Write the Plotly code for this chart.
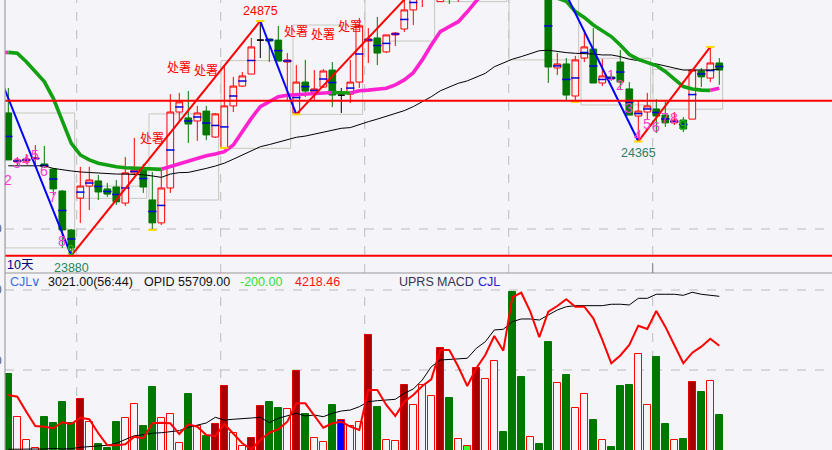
import plotly.graph_objects as go

BG = "#f4f4f9"

# ---------------- price candles (index 0..79) ----------------
OPEN = [24485, 24277, 24281, 24290, 24269, 24247, 24154, 23989, 24124, 24175,
        24197, 24163, 24171, 24103, 24231, 24243, 24116, 24019, 24167, 24489,
        24464, 24451, 24493, 24383, 24337, 24515, 24599, 24650, 24794, 24799,
        24794, 24701, 24485, 24616, 24574, 24595, 24667, 24561, 24565, 24616,
        24790, 24803, 24744, 24816, 24841, 24922, 24985, 25030, 24957, 25100,
        25010, 25120, 25220, 25300, 25260, 25380, 25420, 25330, 25200, 25240,
        25028, 24676, 24693, 24557, 24718, 24756, 24612, 24638, 24701, 24587,
        24472, 24489, 24502, 24476, 24443, 24455, 24459, 24663, 24633, 24697]
HIGH = [24591, 24298, 24311, 24349, 24345, 24252, 24158, 23993, 24257, 24257,
        24222, 24188, 24201, 24298, 24379, 24269, 24235, 24243, 24565, 24570,
        24578, 24515, 24515, 24485, 24684, 24638, 24659, 24803, 24875, 24799,
        24854, 24739, 24688, 24710, 24667, 24671, 24701, 24591, 24710, 24888,
        24845, 24892, 24816, 24828, 24972, 25006, 25049, 25130, 25090, 25120,
        25150, 25250, 25330, 25340, 25400, 25440, 25452, 25350, 25270, 25260,
        25049, 24739, 24718, 24727, 24824, 24845, 24714, 24654, 24752, 24616,
        24540, 24570, 24544, 24532, 24489, 24468, 24667, 24676, 24765, 24718]
LOW = [24286, 24264, 24269, 24256, 24252, 24137, 23913, 23880, 24019, 24074,
       24116, 24129, 24095, 24091, 24222, 24146, 23989, 24010, 24146, 24447,
       24358, 24367, 24370, 24379, 24337, 24489, 24595, 24650, 24718, 24701,
       24705, 24540, 24479, 24553, 24540, 24591, 24510, 24485, 24527, 24591,
       24697, 24688, 24739, 24769, 24828, 24858, 24934, 24990, 24957, 24947,
       24956, 25100, 25200, 25230, 25250, 25350, 25310, 25180, 25150, 25080,
       24612, 24646, 24540, 24532, 24701, 24612, 24599, 24621, 24582, 24476,
       24364, 24455, 24400, 24426, 24434, 24404, 24459, 24595, 24616, 24604]
CLOSE = [24286, 24286, 24290, 24294, 24256, 24163, 23989, 23913, 24175, 24201,
         24150, 24141, 24108, 24231, 24243, 24171, 24019, 24167, 24489, 24532,
         24438, 24485, 24392, 24481, 24515, 24599, 24642, 24765, 24794, 24790,
         24705, 24710, 24616, 24578, 24587, 24663, 24561, 24561, 24616, 24854,
         24799, 24739, 24816, 24824, 24922, 24985, 25028, 25110, 25060, 25010,
         25120, 25220, 25300, 25260, 25380, 25420, 25330, 25200, 25240, 25100,
         24680, 24693, 24561, 24710, 24765, 24612, 24642, 24629, 24616, 24476,
         24493, 24515, 24472, 24443, 24455, 24417, 24667, 24638, 24697, 24667]
DOJI = [28, 37]

# thick moving average (index -1..79)
MA_THICK = [24741, 24742, 24738, 24702, 24660, 24618, 24547, 24455, 24356, 24307,
            24286, 24272, 24264, 24257, 24253, 24252, 24250, 24247, 24246, 24257,
            24269, 24281, 24293, 24304, 24311, 24321, 24349, 24406, 24462, 24512,
            24533, 24554, 24560, 24563, 24566, 24568, 24570, 24572, 24571, 24570,
            24579, 24582, 24585, 24590, 24604, 24625, 24656, 24710, 24773, 24830,
            24851, 24872, 24914, 24960, 24998, 25028, 25049, 25057, 25049, 25028,
            25006, 24985, 24972, 24958, 24915, 24890, 24858, 24833, 24809, 24773,
            24733, 24712, 24697, 24686, 24661, 24631, 24597, 24587, 24582, 24581,
            24590]
# thin black long average (index 0..79)
MA_LONG = [24261, 24261, 24264, 24263, 24261, 24250, 24243, 24239, 24235, 24232,
           24229, 24227, 24226, 24226, 24226, 24223, 24218, 24212, 24226, 24232,
           24233, 24240, 24250, 24260, 24272, 24289, 24307, 24325, 24342, 24351,
           24361, 24370, 24382, 24387, 24395, 24403, 24413, 24420, 24423, 24437,
           24448, 24459, 24472, 24484, 24495, 24512, 24533, 24554, 24579, 24594,
           24611, 24621, 24636, 24653, 24681, 24696, 24713, 24724, 24738, 24749,
           24751, 24745, 24741, 24738, 24738, 24735, 24731, 24731, 24724, 24713,
           24707, 24698, 24693, 24684, 24674, 24667, 24667, 24667, 24667, 24671]

# zigzag pivots
ZZ_IDX = [-1, 7, 28, 32, 56, 70, 78]
ZZ_PRICE = [24642, 23880, 24875, 24479, 25452, 24365, 24765]

# reference horizontal levels
LEVELS = [24537, 23880]

# range boxes (first candle, last candle, low, high)
BOX_START = [0, 8, 16, 24, 32, 40, 48, 56, 64, 72]
BOX_END = [7, 15, 23, 31, 39, 47, 55, 63, 71, 79]
BOX_LO = [23913, 24123, 24116, 24335, 24479, 24790, 24957, 24710, 24519, 24501]
BOX_HI = [24485, 24175, 24481, 24707, 24858, 25110, 25420, 25420, 24717, 24670]

# count labels
CNT_IDX = [0, 1, 2, 3, 4, 5, 6, 7, 67, 68, 69, 70, 71, 72, 73, 74, 75]
CNT_PRICE = [24201, 24273, 24286, 24307, 24239, 24129, 23942, 23904,
             24646, 24604, 24506, 24392, 24438, 24426, 24464, 24464, 24434]
CNT_TEXT = ["2", "3", "4", "5", "6", "7", "8", "9",
            "1", "2", "3", "4", "5", "6", "7", "8", "9"]

# signal text
SIG_IDX = [19, 22, 16, 32, 35, 38]
SIG_PRICE = [24684, 24671, 24383, 24835, 24820, 24858]
SIG_TEXT = "处署"

# pivot markers (index, which)
MARK_IDX = [7, 16, 24, 28, 32, 63, 70, 78]
MARK_KIND = ["L", "L", "L", "H", "L", "L", "L", "H"]

# ---------------- volume panel ----------------
VOL = [3729, 2991, 2584, 2445, 2991, 2877, 3245, 2877, 3297, 2895,
       2520, 2456, 2900, 2964, 3206, 2831, 3510, 2964, 3033, 2532,
       3384, 2836, 2658, 2860, 3522, 2705, 2485, 2618, 3176, 3245,
       3147, 3119, 3781, 3038, 2618, 2549, 3194, 2929, 2831, 2895,
       4403, 3164, 2589, 2571, 3539, 3194, 3539, 3349, 4173, 3320,
       2601, 2485, 3828, 3643, 3954, 2727, 5146, 3677, 2641, 2520,
       4287, 3569, 3712, 3147, 3379, 2934, 2589, 2473, 3522, 3539,
       4070, 3188, 4023, 2865, 2584, 2606, 3586, 3418, 3603, 3021]
VOL_KIND = ("grrrggggdr" "gggrrggrrr" "grgddrrddg" "grdgrrgbrr"
            "dgrrdrrrdg" "rldrrgggrg" "grgrrgrggg" "rrggrgdgrg")
VOL_MA = [3366, 3337, 3078, 2831, 2819, 2791, 2895, 2865, 2974, 2947,
          2705, 2497, 2497, 2515, 2646, 2618, 2877, 2888, 2877, 2692,
          2860, 2819, 2675, 2658, 2865, 2692, 2532, 2428, 2589, 2715,
          2774, 2905, 3223, 3223, 3021, 2801, 2877, 2905, 2819, 2762,
          3453, 3453, 3194, 3004, 3251, 3366, 3522, 3638, 4144, 4144,
          3855, 3522, 3828, 4058, 4386, 4132, 5055, 5134, 4806, 4364,
          4806, 4904, 5020, 4892, 4892, 4692, 4317, 3914, 4049, 4230,
          4564, 4507, 4818, 4547, 4230, 3914, 4097, 4201, 4339, 4218]
OI_LINE = [2428, 2433, 2433, 2433, 2433, 2445, 2433, 2439, 2463, 2473,
           2485, 2497, 2532, 2601, 2663, 2680, 2705, 2715, 2732, 2750,
           2808, 2848, 2883, 2981, 2934, 2947, 2952, 2969, 2981, 2888,
           2964, 3009, 3050, 3004, 3021, 2991, 3050, 3090, 3107, 3164,
           3251, 3268, 3280, 3292, 3396, 3470, 3626, 3855, 3971, 3983,
           3989, 4001, 4173, 4287, 4490, 4502, 4633, 4680, 4680, 4662,
           4749, 4835, 4892, 4910, 4910, 4910, 4910, 4934, 4935, 4922,
           5037, 5037, 5107, 5107, 5107, 5089, 5141, 5107, 5089, 5072]

HEADER = [("CJL", "#3a6ee0"), ("∨", "#3a6ee0"), ("3021.00(56:44)", "#111111"),
          ("OPID 55709.00", "#111111"), ("-200.00", "#33dd33"), ("4218.46", "#ff1010"),
          ("UPRS", "#333355"), ("MACD", "#333355"), ("CJL", "#2222cc")]
HEADER_PX = [9, 30, 47, 143, 239, 294, 398, 436, 477]

# ---------------- figure ----------------
W, H = 832, 450
LEFT = 5
PX_PER = 9.0
X0 = (LEFT - 8.3) / PX_PER
X1 = X0 + (W - LEFT) / PX_PER
TOP_DOM = 177 / 450
Y_TOP_RANGE = [23806.5, 24964]
Y_BOT_RANGE = [2416, 5474.6]

RED = "#ff0000"
GREEN = "#007800"
MAG = "#ff22d0"
MAGRN = "#12a012"

fig = go.Figure()

N = len(OPEN)
norm = [i for i in range(N) if i not in DOJI]
fig.add_trace(go.Candlestick(
    x=norm, open=[OPEN[i] for i in norm], high=[HIGH[i] for i in norm],
    low=[LOW[i] for i in norm], close=[CLOSE[i] for i in norm],
    increasing=dict(line=dict(color=RED, width=1), fillcolor=BG),
    decreasing=dict(line=dict(color=GREEN, width=1), fillcolor=GREEN),
    whiskerwidth=0, hoverinfo="skip", showlegend=False))
fig.add_trace(go.Candlestick(
    x=DOJI, open=[OPEN[i] for i in DOJI], high=[HIGH[i] for i in DOJI],
    low=[LOW[i] for i in DOJI], close=[CLOSE[i] for i in DOJI],
    increasing=dict(line=dict(color="#000000", width=1), fillcolor="#000000"),
    decreasing=dict(line=dict(color="#000000", width=1), fillcolor="#000000"),
    whiskerwidth=0, hoverinfo="skip", showlegend=False))
# blue mid-body marks
fig.add_trace(go.Scatter(
    x=norm, y=[(OPEN[i] + CLOSE[i]) / 2 for i in norm], mode="markers",
    marker=dict(symbol="line-ew", size=6, line=dict(color="#0000dd", width=1.5)),
    hoverinfo="skip", showlegend=False))

# long black MA
fig.add_trace(go.Scatter(x=list(range(N)), y=MA_LONG, mode="lines",
                         line=dict(color="#000000", width=1), hoverinfo="skip", showlegend=False))

# thick coloured MA, split by direction
ma_x = list(range(-1, N))
segs = []
cur = None
for k in range(len(ma_x) - 1):
    col = MAG if MA_THICK[k + 1] >= MA_THICK[k] else MAGRN
    if col != cur:
        segs.append([col, [ma_x[k]], [MA_THICK[k]]])
        cur = col
    segs[-1][1].append(ma_x[k + 1])
    segs[-1][2].append(MA_THICK[k + 1])
for col, xs, ys in segs:
    fig.add_trace(go.Scatter(x=xs, y=ys, mode="lines", line=dict(color=col, width=3.6),
                             hoverinfo="skip", showlegend=False))

# zigzag
for k in range(len(ZZ_IDX) - 1):
    col = RED if ZZ_PRICE[k + 1] > ZZ_PRICE[k] else "#0000ff"
    fig.add_trace(go.Scatter(x=ZZ_IDX[k:k + 2], y=ZZ_PRICE[k:k + 2], mode="lines",
                             line=dict(color=col, width=2), hoverinfo="skip", showlegend=False))

# pivot markers
fig.add_trace(go.Scatter(
    x=MARK_IDX, y=[LOW[i] if kd == "L" else HIGH[i] for i, kd in zip(MARK_IDX, MARK_KIND)],
    mode="markers", marker=dict(symbol="line-ew", size=6, line=dict(color="#ffd800", width=2)),
    hoverinfo="skip", showlegend=False))

# volume bars
fill_map = {"g": GREEN, "r": BG, "d": "#a80000", "b": "#0000ff", "l": "#33ff33"}
line_map = {"g": GREEN, "r": RED, "d": "#e00000", "b": RED, "l": RED}
fig.add_trace(go.Bar(
    x=list(range(N)), y=VOL, width=0.74, xaxis="x2", yaxis="y2",
    marker=dict(color=[fill_map[k] for k in VOL_KIND],
                line=dict(color=[line_map[k] for k in VOL_KIND], width=1)),
    hoverinfo="skip", showlegend=False))
fig.add_trace(go.Scatter(x=list(range(N)), y=OI_LINE, xaxis="x2", yaxis="y2", mode="lines",
                         line=dict(color="#000000", width=1), hoverinfo="skip", showlegend=False))
fig.add_trace(go.Scatter(x=list(range(N)), y=VOL_MA, xaxis="x2", yaxis="y2", mode="lines",
                         line=dict(color=RED, width=2), hoverinfo="skip", showlegend=False))

# ---------------- shapes ----------------
shapes = []
GRID = dict(color="#bdbdbd", width=1, dash="dash")
for gx in [7.6, 23.6, 39.6, 55.6, 71.6]:
    shapes.append(dict(type="line", xref="x", yref="paper", x0=gx, x1=gx,
                       y0=TOP_DOM, y1=1, line=GRID, layer="below"))
    shapes.append(dict(type="line", xref="x", yref="paper", x0=gx, x1=gx,
                       y0=0, y1=160 / 450, line=GRID, layer="below"))
shapes.append(dict(type="line", xref="paper", yref="y", x0=0, x1=1, y0=23993, y1=23993,
                   line=GRID, layer="below"))
for gy in [5181, 3798]:
    shapes.append(dict(type="line", xref="paper", yref="y2", x0=0, x1=1, y0=gy, y1=gy,
                       line=GRID, layer="below"))
for s, e, lo, hi in zip(BOX_START, BOX_END, BOX_LO, BOX_HI):
    shapes.append(dict(type="rect", xref="x", yref="y", x0=s - 0.37, x1=e + 0.37,
                       y0=lo, y1=hi, line=dict(color="#c8c8c0", width=1), layer="below"))
for lv in LEVELS:
    shapes.append(dict(type="line", xref="paper", yref="y", x0=0, x1=1, y0=lv, y1=lv,
                       line=dict(color=RED, width=2), layer="above"))
shapes.append(dict(type="line", xref="paper", yref="paper", x0=0, x1=1, y0=TOP_DOM, y1=TOP_DOM,
                   line=dict(color="#999999", width=1)))
shapes.append(dict(type="line", xref="paper", yref="paper", x0=0, x1=0, y0=0, y1=1,
                   line=dict(color="#a0a0a0", width=1.2)))
shapes.append(dict(type="line", xref="x", yref="paper", x0=71.6, x1=71.6, y0=TOP_DOM,
                   y1=(450 - 263) / 450, line=dict(color="#888888", width=1)))

# ---------------- annotations ----------------
ann = []
for i, p, t in zip(CNT_IDX, CNT_PRICE, CNT_TEXT):
    ann.append(dict(x=i, y=p, xref="x", yref="y", text=t, showarrow=False,
                    font=dict(family="Liberation Sans", size=14,
                              color="#22bb22" if t == "9" else "#ff3ccf")))
for i, p in zip(SIG_IDX, SIG_PRICE):
    ann.append(dict(x=i, y=p, xref="x", yref="y", text=SIG_TEXT, showarrow=False,
                    font=dict(family="Noto Sans CJK SC", size=12, color=RED)))
ann.append(dict(x=28, y=HIGH[28], xref="x", yref="y", text=str(HIGH[28]), showarrow=False,
                yanchor="bottom", yshift=1, font=dict(family="Liberation Sans", size=12.5, color=RED)))
ann.append(dict(x=7, y=LOW[7], xref="x", yref="y", text=str(LOW[7]), showarrow=False,
                yanchor="top", yshift=-3, font=dict(family="Liberation Sans", size=12.5, color="#2a8a5a")))
ann.append(dict(x=70, y=LOW[70], xref="x", yref="y", text=str(ZZ_PRICE[5]), showarrow=False,
                yanchor="top", yshift=-2, font=dict(family="Liberation Sans", size=12.5, color="#2a7f6a")))
ann.append(dict(x=0, y=1 - 265 / 450, xref="paper", yref="paper", text="10天", showarrow=False,
                xanchor="left", font=dict(family="Liberation Sans, Noto Sans CJK SC", size=12.5,
                                          color="#000080")))
for (t, c), px in zip(HEADER, HEADER_PX):
    ann.append(dict(x=(px - LEFT - 1) / (W - LEFT), y=1 - 281.5 / 450, xref="paper", yref="paper",
                    text=t, showarrow=False, xanchor="left",
                    font=dict(family="Liberation Sans", size=12.5, color=c)))
for py in [229, 290, 370]:
    ann.append(dict(x=(3.5 - LEFT) / (W - LEFT), y=1 - py / 450, xref="paper", yref="paper",
                    text="0", showarrow=False, xanchor="right",
                    font=dict(family="Liberation Sans", size=12, color="#555577")))

fig.update_layout(
    width=W, height=H, margin=dict(l=LEFT, r=0, t=0, b=0),
    paper_bgcolor=BG, plot_bgcolor=BG, showlegend=False,
    boxgap=0.26, boxgroupgap=0, bargap=0,
    xaxis=dict(range=[X0, X1], domain=[0, 1], anchor="y", visible=False,
               rangeslider=dict(visible=False), type="linear"),
    yaxis=dict(range=Y_TOP_RANGE, domain=[TOP_DOM, 1], visible=False),
    xaxis2=dict(range=[X0, X1], domain=[0, 1], anchor="y2", matches="x", visible=False),
    yaxis2=dict(range=Y_BOT_RANGE, domain=[0, TOP_DOM], visible=False),
    shapes=shapes, annotations=ann,
)

fig.write_html("out.html", config={"displayModeBar": False},
               post_script="document.body.style.margin='0';document.body.style.overflow='hidden';")
